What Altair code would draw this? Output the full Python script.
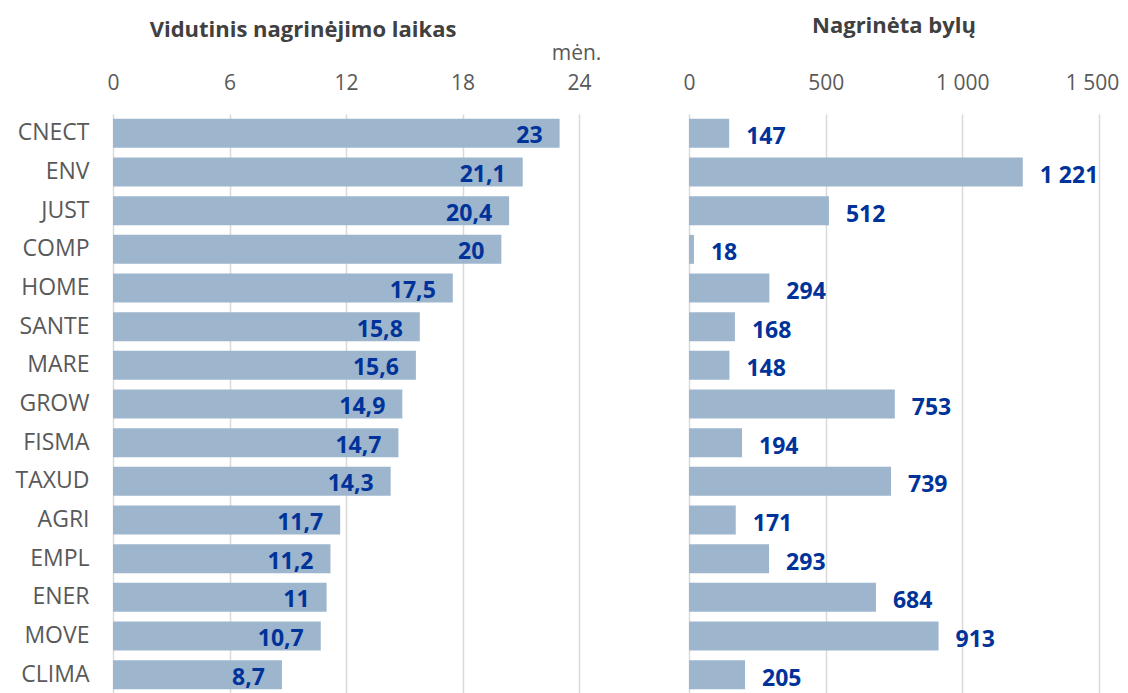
import altair as alt
import pandas as pd

categories = ["CNECT", "ENV", "JUST", "COMP", "HOME", "SANTE", "MARE", "GROW",
              "FISMA", "TAXUD", "AGRI", "EMPL", "ENER", "MOVE", "CLIMA"]
months = [23, 21.1, 20.4, 20, 17.5, 15.8, 15.6, 14.9, 14.7, 14.3, 11.7, 11.2, 11, 10.7, 8.7]
cases = [147, 1221, 512, 18, 294, 168, 148, 753, 194, 739, 171, 293, 684, 913, 205]
month_ticks = [0, 6, 12, 18, 24]
case_ticks = [0, 500, 1000, 1500]

FONT = "Open Sans"
BAR = "#9DB5CD"
BLUE = "#003399"
GREY = "#595959"
DARK = "#404040"
GRID = "#D9D9D9"

df = pd.DataFrame({
    "dg": categories,
    "months": months,
    "cases": cases,
    "mlab": [f"{v:g}".replace(".", ",") for v in months],
    "clab": [f"{v:,}".replace(",", " ") for v in cases],
})

yscale = alt.Scale(paddingInner=0.25, paddingOuter=0.125)

y_left = alt.Y("dg:N", sort=categories, title=None, scale=yscale,
               axis=alt.Axis(labelFontSize=23, labelColor=GREY, labelPadding=24,
                             ticks=False, domain=False, minExtent=105, maxExtent=105,
                             labelFont=FONT))
y_right = alt.Y("dg:N", sort=categories, title=None, scale=yscale, axis=None)

x_left = alt.X("months:Q", scale=alt.Scale(domain=[0, 24], nice=False),
               axis=alt.Axis(orient="top", values=month_ticks, ticks=False, domain=False,
                             labelFontSize=21, labelColor=GREY, labelPadding=21, labelFont=FONT,
                             labelFlush=False,
                             grid=True, gridColor=GRID, gridWidth=1.5,
                             title="mėn.", titleFont=FONT, titleFontWeight="normal",
                             titleFontSize=21, titleColor=GREY, titleAlign="center",
                             titleBaseline="middle", titleX=463, titleY=-61))

x_right = alt.X("cases:Q", scale=alt.Scale(domain=[0, 1500], nice=False),
                axis=alt.Axis(orient="top", values=case_ticks, ticks=False, domain=False,
                              labelFontSize=21, labelColor=GREY, labelPadding=21, labelFont=FONT,
                              labelFlush=False,
                              labelOffset={"condition": {"test": "datum.value >= 1500", "value": -7},
                                           "value": 0},
                              labelExpr="replace(format(datum.value, ','), ',', ' ')",
                              grid=True, gridColor=GRID, gridWidth=1.5, title=None))

base = alt.Chart(df)

left = alt.layer(
    base.mark_bar(color=BAR).encode(x=x_left, y=y_left),
    base.mark_text(align="right", baseline="middle", dx=-17, dy=3, fontWeight="bold",
                   fontSize=23, color=BLUE, font=FONT).encode(x="months:Q", y=alt.Y("dg:N", sort=categories), text="mlab:N"),
).properties(width=466, height=580,
             title=alt.TitleParams("Vidutinis nagrinėjimo laikas", font=FONT, fontSize=22,
                                   fontWeight="bold", color=DARK, anchor="middle", dx=-43, offset=0))

right = alt.layer(
    base.mark_bar(color=BAR).encode(x=x_right, y=y_right),
    base.mark_text(align="left", baseline="middle", dx=17, dy=4, fontWeight="bold",
                   fontSize=23, color=BLUE, font=FONT).encode(x="cases:Q", y=alt.Y("dg:N", sort=categories), text="clab:N"),
).properties(width=410, height=580,
             title=alt.TitleParams("Nagrinėta bylų", font=FONT, fontSize=22,
                                   fontWeight="bold", color=DARK, anchor="middle", offset=34))

chart = alt.hconcat(left, right, spacing=110, bounds="flush").configure_view(
    stroke=None).properties(padding={"left": 0, "top": 7, "right": 0, "bottom": 0})

chart.save("out.html", embed_options={"renderer": "svg", "actions": False})
